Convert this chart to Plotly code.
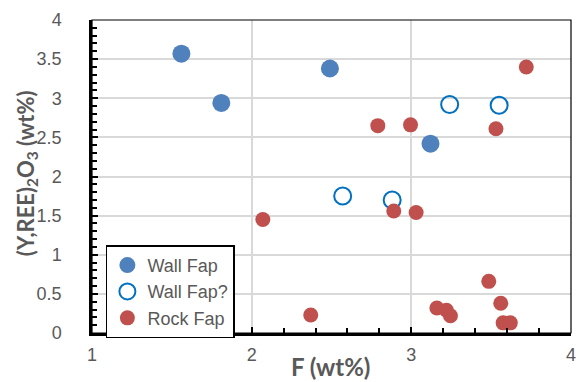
import plotly.graph_objects as go

wall_x = [1.56, 1.81, 2.49, 3.12]
wall_y = [3.57, 2.94, 3.38, 2.42]

wallq_x = [3.24, 3.55, 2.57, 2.88]
wallq_y = [2.92, 2.91, 1.75, 1.70]

rock_x = [3.72, 2.79, 2.995, 3.53, 2.07, 2.89, 3.03, 3.485, 3.56, 2.37, 3.16, 3.22, 3.245, 3.575, 3.62]
rock_y = [3.40, 2.65, 2.66, 2.61, 1.45, 1.56, 1.54, 0.66, 0.38, 0.23, 0.32, 0.29, 0.22, 0.13, 0.13]

x_ticks = [1, 2, 3, 4]
y_ticks = [0, 0.5, 1, 1.5, 2, 2.5, 3, 3.5, 4]

x_title = "<b>F (wt%)</b>"
y_title = "<b>(Y,REE)<sub>2</sub>O<sub>3</sub> (wt%)</b>"

gray = "#595959"

fig = go.Figure()
fig.add_trace(go.Scatter(x=wall_x, y=wall_y, mode="markers", name="Wall Fap",
                         marker=dict(size=18, color="#4f81bd", line=dict(width=0))))
fig.add_trace(go.Scatter(x=wallq_x, y=wallq_y, mode="markers", name="Wall Fap?",
                         marker=dict(size=17, color="#0070c0", symbol="circle-open",
                                     line=dict(width=2, color="#0070c0"))))
fig.add_trace(go.Scatter(x=rock_x, y=rock_y, mode="markers", name="Rock Fap",
                         marker=dict(size=15, color="#c0504d", line=dict(width=0))))

fig.add_shape(type="rect", xref="paper", yref="paper", x0=0, y0=0, x1=1, y1=1,
              line=dict(color="black", width=1.2), layer="above")

fig.add_annotation(text=x_title, xref="paper", yref="paper", x=0.497, y=-0.108,
                   xanchor="center", yanchor="middle", showarrow=False,
                   font=dict(family="Lato, sans-serif", size=24, color=gray))
fig.add_annotation(text=y_title, xref="paper", yref="paper", x=-0.1357, y=0.51,
                   xanchor="center", yanchor="middle", showarrow=False, textangle=-90,
                   font=dict(family="Lato, sans-serif", size=22, color=gray))

# page body has an 8px default margin, so the figure is sized/offset to compensate
fig.update_layout(
    width=576, height=374,
    margin=dict(l=84, r=13, t=12, b=49, autoexpand=False),
    paper_bgcolor="white", plot_bgcolor="white",
    font=dict(family="Liberation Sans, Arial, sans-serif", size=18, color=gray),
    showlegend=True,
    legend=dict(x=0.029, y=0.28, xanchor="left", yanchor="top",
                bordercolor="black", borderwidth=1.5, bgcolor="white",
                font=dict(size=18, color=gray), tracegroupgap=0,
                itemwidth=30),
    xaxis=dict(range=[1, 4], tickvals=x_ticks, ticktext=[str(v) for v in x_ticks],
               showgrid=True, gridcolor="#d9d9d9", gridwidth=1.5,
               showline=True, linecolor="black", linewidth=2.5, mirror=False,
               ticks="inside", ticklen=6, tickwidth=1.5, tickcolor="black",
               minor=dict(dtick=0.2, ticks="inside", ticklen=5, tickcolor="black", showgrid=False),
               zeroline=False, ticklabelstandoff=4,
               tickfont=dict(size=18, color=gray)),
    yaxis=dict(range=[0, 4], tickvals=y_ticks, ticktext=[("%g" % v) for v in y_ticks],
               showgrid=True, gridcolor="#d9d9d9", gridwidth=1.5,
               showline=True, linecolor="black", linewidth=2.5, mirror=False,
               ticks="inside", ticklen=6, tickwidth=1.5, tickcolor="black",
               minor=dict(dtick=0.1, ticks="inside", ticklen=5, tickcolor="black", showgrid=False),
               zeroline=False, ticklabelstandoff=24,
               tickfont=dict(size=18, color=gray)),
)

fig.write_html("out.html")
